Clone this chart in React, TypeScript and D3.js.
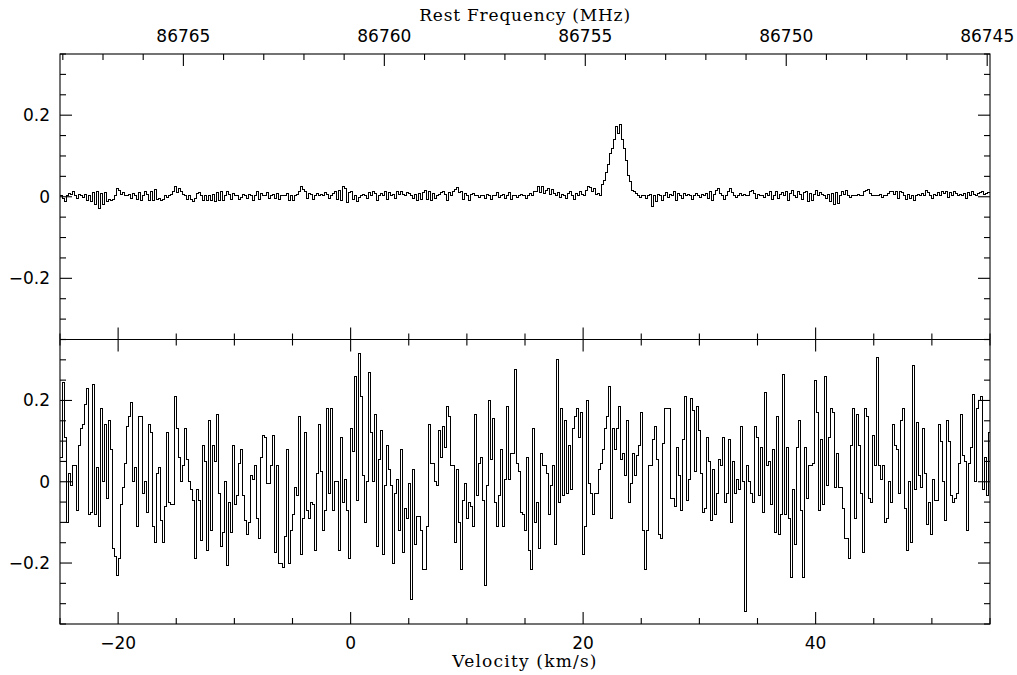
import React from 'react';
import * as d3 from 'd3';

const V_MIN = -25;
const V_MAX = 55;
const FREQ_LEFT = 86768.07;
const FREQ_RIGHT = 86744.93;
const Y_MIN = -0.35;
const Y_MAX = 0.35;
const VEL_MAJOR = [-20, 0, 20, 40];
const FREQ_MAJOR = [86765, 86760, 86755, 86750, 86745];
const Y_MAJOR = [-0.2, 0, 0.2];
const X_TITLE = 'Velocity (km/s)';
const TOP_TITLE = 'Rest Frequency (MHz)';

// upper panel spectrum (K), channels from V_MIN to V_MAX
const TOP_SPECTRUM = [
  .004,-.005,-.012,.002,.008,.006,.014,.004,-.004,.005,.003,
  -.003,.006,-.008,.004,-.012,.01,-.02,.012,-.028,.008,-.018,.01,-.012,-.006,-.008,
  -.006,.003,.02,.016,.006,.01,.004,.002,.006,-.004,.008,.002,-.006,.01,-.008,
  .004,.014,.006,-.008,.012,-.01,.018,-.006,-.004,-.01,-.006,.002,-.002,.004,.006,
  .012,.024,.01,.02,.014,.006,.004,-.006,.002,-.006,-.012,-.004,.008,.01,.004,
  -.008,.002,-.01,.004,-.01,.006,-.012,.01,-.008,.012,-.01,.004,.014,.006,-.006,.008,.002,.004,-.006,-.002,
  .006,.004,-.004,.006,.002,-.008,.004,.014,-.006,.008,.002,.004,.01,-.004,.002,.006,-.004,.008,-.006,.004,
  .002,.004,.008,-.008,.002,-.01,.004,.006,.012,.026,.018,.014,-.004,.008,.006,-.006,.004,.008,.002,.006,
  .004,.01,.006,-.004,.002,.008,.012,-.006,.016,-.01,.024,.02,-.014,.01,.014,-.006,.004,-.012,-.002,.004,
  .006,.004,-.004,.01,.002,.012,.008,-.008,.004,.008,.002,.014,-.006,.01,.004,.006,-.004,.012,.006,.014,
  .006,.004,.01,.008,.002,-.004,.006,-.008,.008,-.006,.01,.016,-.006,.012,-.01,.008,-.004,.002,.006,.01,
  .014,.006,-.008,.01,.002,.012,.018,.022,.01,.014,-.006,.008,.004,-.008,.006,.008,.002,.004,-.002,.004,
  .002,-.004,.006,.004,-.006,.002,.004,.01,-.002,.002,.006,-.004,.004,.01,-.006,.002,.004,-.002,.004,.006,
  .002,-.004,.004,.008,.002,.012,
  .014,.026,.01,.024,.008,.016,.02,.006,.018,.008,
  .004,.01,-.002,.006,.002,-.004,.008,.012,.002,-.006,.008,.004,.012,.006,.002,
  .016,.024,.022,.012,.02,.006,.008,.004,
  .03,.04,.06,.08,.105,.118,.14,.172,.155,.178,.14,.118,.09,.053,.038,.016,
  .014,.008,.004,-.002,.002,.004,-.004,.002,.006,-.024,.004,-.012,.006,.002,-.008,
  .004,.01,-.002,.006,.002,.012,-.01,.008,.002,-.004,.008,.002,.006,.004,-.006,.004,.008,.002,-.002,.006,
  .004,.008,-.004,.012,-.008,.006,.016,.02,.008,.002,-.006,.004,.012,.02,.01,.002,-.002,.004,.008,.002,
  .006,.004,.002,.012,.016,.008,-.004,.006,.002,.004,-.002,.008,.002,.012,-.006,.004,.014,-.004,.006,.01,
  .004,.012,-.008,.008,.016,.004,-.002,.014,.006,-.006,.01,.014,-.012,.008,-.01,.006,.016,.004,.01,.006,
  .002,-.004,.006,-.012,.008,-.02,.01,-.016,.004,.014,.006,.016,.004,-.002,.002,.004,.002,.006,.002,.004,
  .012,.016,.018,.008,.004,.002,.004,.002,.006,-.002,.004,.002,.008,.012,.014,.006,.012,-.004,.014,.01,
  .004,-.006,.006,-.004,.002,-.008,.004,.006,.002,.008,.004,.016,.01,.004,-.004,.006,.002,.01,.004,.012,
  .008,.014,-.002,.01,.004,.012,.008,.002,.006,.004,.008,-.004,.01,.004,.012,.006,.002,.008,.01,.014,.006,.008,.01,
];

// lower panel spectrum (K)
const BOTTOM_SPECTRUM = [
  .06,.245,.11,-.1,.02,-.01,.04,.04,-.07,.09,
  .13,.14,.19,.23,-.08,-.075,.24,-.08,.035,-.11,
  .18,0,.14,-.04,.15,.08,-.165,-.185,-.23,-.19,
  -.055,-.015,.045,.135,.16,.195,0,.035,-.11,.16,
  .16,-.03,0,-.075,.14,.12,-.11,-.15,.02,.035,
  -.095,-.15,-.06,.12,-.05,-.055,-.055,.21,.13,.06,
  0,.04,.13,.055,0,-.02,-.045,-.19,-.02,-.045,
  -.145,.09,.05,-.17,.15,-.12,.09,.05,.165,-.03,
  -.16,-.125,0,-.205,-.05,-.125,.09,-.055,-.035,.045,
  .08,-.035,-.095,-.13,-.1,.015,.005,.04,-.09,-.14,
  .06,.115,.11,-.005,-.005,.04,.115,-.175,.04,-.2,
  -.2,-.21,-.135,.08,-.2,-.12,-.08,-.015,-.035,.16,
  -.18,-.09,.12,-.07,-.09,-.05,-.055,-.17,.02,.14,
  .025,-.12,-.07,.18,-.03,.18,-.07,0,0,-.17,.11,
  -.05,.005,-.07,-.19,.13,.075,.26,-.045,.315,.21,
  .015,-.1,0,.27,.12,0,.165,-.16,.055,.125,
  -.18,-.01,.09,.03,-.01,-.2,-.03,.005,-.12,.08,
  -.175,-.065,-.09,-.005,-.29,.03,-.155,-.085,-.085,-.12,
  -.215,-.215,-.11,.14,.045,.045,0,-.01,.125,.06,
  .135,.085,.185,.16,.04,.04,-.15,.03,-.1,-.215,
  -.045,-.005,-.09,-.05,-.06,-.11,.165,-.035,.045,.06,
  -.045,-.255,-.01,.2,.055,.155,-.05,-.11,-.035,.08,
  -.11,.005,.185,.005,.07,.07,.275,.045,.025,-.075,
  -.08,-.12,.06,-.17,-.215,.13,-.1,-.05,-.165,.07,
  .04,.04,.02,-.08,-.01,.04,-.155,.3,-.05,.18,
  -.035,.15,-.03,.09,-.02,.13,.16,.18,.11,.17,
  -.18,-.11,.2,-.005,-.03,-.08,-.03,-.03,.03,.045,
  .08,.13,.16,.235,-.09,.13,.08,.13,.185,.055,
  .07,.015,.15,-.05,-.005,.07,.015,.065,.09,.17,
  -.12,-.215,-.12,.04,.04,.105,.135,.055,-.13,-.14,
  .095,.18,.18,.18,
  -.04,-.04,-.06,.085,.015,-.07,.105,.21,-.045,.005,
  .205,.175,.025,.185,.125,.02,-.075,-.065,.11,.05,
  -.095,.03,-.08,-.03,.055,.04,.11,-.05,-.03,.105,
  -.1,.05,-.03,.005,-.02,.135,0,-.32,.04,0,
  -.03,-.05,.135,.11,-.035,.085,-.075,.22,.04,.05,
  -.055,.08,-.125,.16,-.13,-.08,.265,-.08,.085,-.09,
  -.235,-.02,-.155,.085,.15,-.07,-.235,.085,-.04,.04,
  .04,.045,.25,.17,-.07,.105,-.055,.26,-.01,.11,
  .18,.17,-.015,.07,-.015,-.015,-.065,-.14,-.14,-.19,
  .09,.18,-.09,.165,.09,-.03,-.175,.18,.16,-.04,
  -.05,.115,.04,.305,.04,.005,.04,-.1,-.09,0,
  -.05,.14,.09,.08,-.03,.15,.18,-.065,-.17,0,
  -.15,.285,-.02,.145,.015,-.015,.13,.02,-.105,-.05,
  -.13,.005,-.045,-.045,.14,.1,0,-.095,.15,.1,
  -.035,-.05,-.04,-.03,.045,.165,.065,.05,-.12,.045,
  .085,.215,0,.18,.2,.21,-.02,.06,-.035,.12,
];

const W = 1017;
const H = 675;
const L = 60;
const R = 990;
const T = 54;
const MID = 339.5;
const B = 624;
const MAJ = 12;
const MIN = 6;
const SANS = '"DejaVu Sans", sans-serif';
const SERIF = '"DejaVu Serif", serif';

export default function App() {
  const x = d3.scaleLinear().domain([V_MIN, V_MAX]).range([L, R]);
  const xf = d3.scaleLinear().domain([FREQ_LEFT, FREQ_RIGHT]).range([L, R]);
  const yTop = d3.scaleLinear().domain([Y_MIN, Y_MAX]).range([MID, T]);
  const yBot = d3.scaleLinear().domain([Y_MIN, Y_MAX]).range([B, MID]);

  const velMinor = d3.range(-5, 12).map((i) => i * 5).filter((v) => v >= V_MIN && v <= V_MAX && !VEL_MAJOR.includes(v));
  const freqMinor = d3.range(86745, 86769).filter((f) => f <= FREQ_LEFT && f >= FREQ_RIGHT && !FREQ_MAJOR.includes(f));
  const yMinorAll = d3.range(-7, 8).map((i) => +(i * 0.05).toFixed(2));
  const yMinor = yMinorAll.filter((v) => !Y_MAJOR.some((m) => Math.abs(m - v) < 1e-9));

  const stepPath = (vals: number[], y: d3.ScaleLinear<number, number>) => {
    const w = (V_MAX - V_MIN) / vals.length;
    const pts: [number, number][] = vals.map((v, i) => [V_MIN + i * w, v]);
    pts.push([V_MAX, vals[vals.length - 1]]);
    return d3
      .line<[number, number]>()
      .x((d) => x(d[0]))
      .y((d) => y(d[1]))
      .curve(d3.curveStepAfter)(pts) as string;
  };

  const yTicks = (y: d3.ScaleLinear<number, number>, key: string) => (
    <g key={key}>
      {Y_MAJOR.map((v) => (
        <g key={'M' + v}>
          <line x1={L} x2={L + MAJ} y1={y(v)} y2={y(v)} />
          <line x1={R} x2={R - MAJ} y1={y(v)} y2={y(v)} />
        </g>
      ))}
      {yMinor.map((v) => (
        <g key={'m' + v}>
          <line x1={L} x2={L + MIN} y1={y(v)} y2={y(v)} />
          <line x1={R} x2={R - MIN} y1={y(v)} y2={y(v)} />
        </g>
      ))}
    </g>
  );

  const yLabels = (y: d3.ScaleLinear<number, number>, key: string) => (
    <g key={key} fontFamily={SANS} fontSize={17} textAnchor="end" fill="#000">
      {Y_MAJOR.map((v) => (
        <text key={v} x={50} y={y(v) + 6}>
          {v === 0 ? '0' : (v < 0 ? '\u2212' : '') + Math.abs(v).toString()}
        </text>
      ))}
    </g>
  );

  // velocity ticks at given y, dir = +1 (down) / -1 (up)
  const vTicks = (yy: number, dir: number, key: string) => (
    <g key={key}>
      {VEL_MAJOR.map((v) => (
        <line key={'M' + v} x1={x(v)} x2={x(v)} y1={yy} y2={yy + dir * MAJ} />
      ))}
      {velMinor.map((v) => (
        <line key={'m' + v} x1={x(v)} x2={x(v)} y1={yy} y2={yy + dir * MIN} />
      ))}
    </g>
  );

  return (
    <svg
      width={W}
      height={H}
      viewBox={`0 0 ${W} ${H}`}
      style={{ position: 'absolute', left: 0, top: 0, background: '#fff' }}
    >
      <rect x={0} y={0} width={W} height={H} fill="#fff" />
      <g stroke="#000" strokeWidth={1.1} fill="none">
        <rect x={L} y={T} width={R - L} height={B - T} />
        <line x1={L} x2={R} y1={MID} y2={MID} />
        {yTicks(yTop, 'yt')}
        {yTicks(yBot, 'yb')}
        {vTicks(MID, -1, 'v1')}
        {vTicks(MID, 1, 'v2')}
        {vTicks(B, -1, 'v3')}
        {FREQ_MAJOR.map((f) => (
          <line key={'F' + f} x1={xf(f)} x2={xf(f)} y1={T} y2={T + MAJ} />
        ))}
        {freqMinor.map((f) => (
          <line key={'f' + f} x1={xf(f)} x2={xf(f)} y1={T} y2={T + MIN} />
        ))}
      </g>
      <g stroke="#000" strokeWidth={1} fill="none" shapeRendering="crispEdges">
        <path d={stepPath(TOP_SPECTRUM, yTop)} />
        <path d={stepPath(BOTTOM_SPECTRUM, yBot)} />
      </g>
      {yLabels(yTop, 'lt')}
      {yLabels(yBot, 'lb')}
      <g fontFamily={SANS} fontSize={17} textAnchor="middle" fill="#000">
        {FREQ_MAJOR.map((f) => (
          <text key={f} x={xf(f)} y={41.5}>
            {f}
          </text>
        ))}
        {VEL_MAJOR.map((v) => (
          <text key={v} x={x(v)} y={649}>
            {v < 0 ? '\u2212' + Math.abs(v) : v}
          </text>
        ))}
      </g>
      <g fontFamily={SERIF} fontSize={17} textAnchor="middle" fill="#000">
        <text x={(L + R) / 2} y={21} letterSpacing={0.8}>
          {TOP_TITLE}
        </text>
        <text x={(L + R) / 2} y={667} letterSpacing={1.2}>
          {X_TITLE}
        </text>
      </g>
    </svg>
  );
}
